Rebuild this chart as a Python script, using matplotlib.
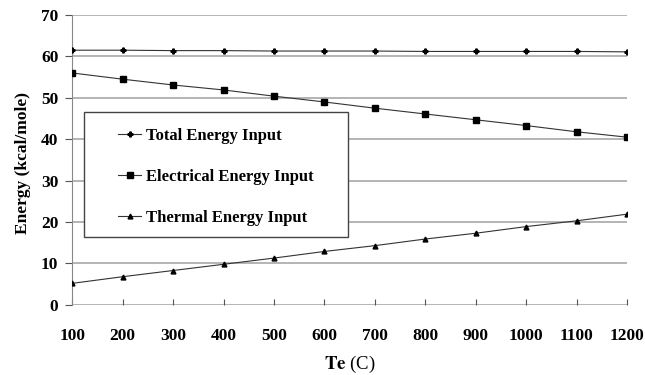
import matplotlib.pyplot as plt
from matplotlib.patches import Rectangle

temp = [100, 200, 300, 400, 500, 600, 700, 800, 900, 1000, 1100, 1200]
total = [61.5, 61.5, 61.4, 61.4, 61.3, 61.3, 61.3, 61.2, 61.2, 61.2, 61.2, 61.1]
electrical = [56.0, 54.5, 53.1, 51.9, 50.4, 49.0, 47.5, 46.1, 44.7, 43.3, 41.8, 40.5]
thermal = [5.2, 6.8, 8.3, 9.8, 11.3, 12.9, 14.3, 15.9, 17.3, 18.9, 20.3, 21.9]
yticks = [0, 10, 20, 30, 40, 50, 60, 70]

plt.rcParams['font.family'] = ['Liberation Serif', 'DejaVu Serif']
plt.rcParams['mathtext.fontset'] = 'stix'

fig = plt.figure(figsize=(6.45, 3.75), dpi=100)
ax = fig.add_axes([0.112, 0.187, 0.860, 0.773])

for y in yticks:
    ax.axhline(y, color='#a0a0a0', lw=1.1, zorder=1)

ax.plot(temp, total, color='#333333', lw=0.8, marker='P', ms=3.5, mfc='black', mec='black',
        label='Total Energy Input', zorder=3)
ax.plot(temp, electrical, color='#333333', lw=0.8, marker='s', ms=4, mfc='black', mec='black',
        label='Electrical Energy Input', zorder=3)
ax.plot(temp, thermal, color='#333333', lw=0.8, marker='^', ms=3.5, mfc='black', mec='black',
        label='Thermal Energy Input', zorder=3)

ax.set_xlim(100, 1200)
ax.set_ylim(0, 70)
ax.set_xticks(temp)
ax.set_yticks(yticks)
for s in ['top', 'right', 'bottom']:
    ax.spines[s].set_visible(False)
ax.spines['left'].set_color('#888888')
ax.tick_params(axis='y', direction='out', length=5, color='#555555', labelsize=12.5, pad=5)
ax.tick_params(axis='x', direction='in', length=4, color='#555555', labelsize=12.5, pad=17)
for lab in ax.get_xticklabels() + ax.get_yticklabels():
    lab.set_fontweight('bold')

ax.set_ylabel('Energy (kcal/mole)', fontsize=12.5, fontweight='bold')
ax.yaxis.set_label_coords(-0.075, 0.49)
ax.set_xlabel(r'$\mathbf{Te}$ (C)', fontsize=13.5, labelpad=7)

# legend box drawn separately so its padding can match the original
ax.add_patch(Rectangle((0.0216, 0.2345), 0.4754, 0.431, transform=ax.transAxes,
                       facecolor='white', edgecolor='#444444', lw=1.0, zorder=4))
leg = ax.legend(loc='upper left', bbox_to_anchor=(0.083, 0.61),
                frameon=False, handlelength=1.35, labelspacing=1.5,
                borderpad=0, handletextpad=0.3, borderaxespad=0,
                prop={'weight': 'bold', 'size': 12})
leg.set_zorder(5)

fig.savefig('out.png', dpi=100)
